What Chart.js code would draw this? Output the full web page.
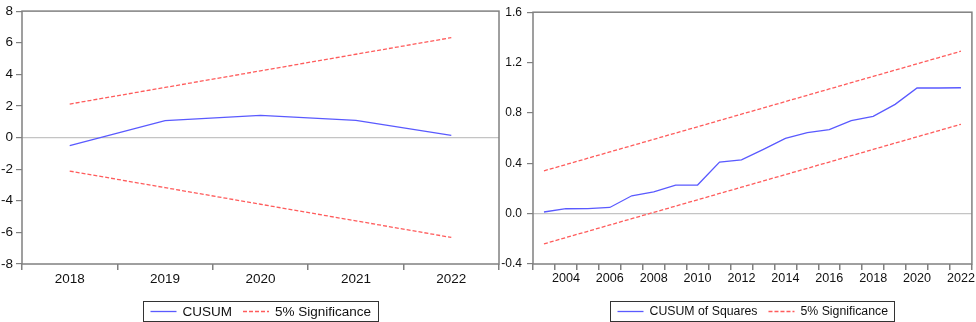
<!DOCTYPE html>
<html>
<head>
<meta charset="utf-8">
<script src="https://cdn.jsdelivr.net/npm/chart.js@4/dist/chart.umd.min.js"></script>
<style>
html,body{margin:0;padding:0;background:#fff;}
#wrap{position:relative;width:976px;height:322px;overflow:hidden;}
#c1{position:absolute;left:0;top:0;}
#c2{position:absolute;left:500px;top:0;}
</style>
</head>
<body>
<div id="wrap">
<canvas id="c1" width="500" height="322"></canvas>
<canvas id="c2" width="476" height="322"></canvas>
</div>
<script>
// ---- Left panel: CUSUM ----
const cusumYears = ['2018','2019','2020','2021','2022'];
const cusumValues = [-0.51, 1.07, 1.40, 1.09, 0.14];
const cusumUpper = [2.12, 3.17, 4.22, 5.27, 6.32];
const cusumLower = [-2.12, -3.17, -4.22, -5.27, -6.32];
const cusumYTicks = [-8, -6, -4, -2, 0, 2, 4, 6, 8];

// ---- Right panel: CUSUM of Squares ----
const sqYears = ['2003','2004','2005','2006','2007','2008','2009','2010','2011','2012',
                 '2013','2014','2015','2016','2017','2018','2019','2020','2021','2022'];
const sqValues = [0.013, 0.039, 0.040, 0.049, 0.142, 0.173, 0.227, 0.227, 0.410, 0.427,
                  0.510, 0.597, 0.643, 0.667, 0.739, 0.773, 0.868, 0.998, 0.998, 1.000];
const sqUpper = [0.34, 0.39, 0.44, 0.49, 0.54, 0.59, 0.64, 0.69, 0.74, 0.79,
                 0.84, 0.89, 0.94, 0.99, 1.04, 1.09, 1.14, 1.19, 1.24, 1.29];
const sqLower = [-0.24, -0.19, -0.14, -0.09, -0.04, 0.01, 0.06, 0.11, 0.16, 0.21,
                 0.26, 0.31, 0.36, 0.41, 0.46, 0.51, 0.56, 0.61, 0.66, 0.71];
const sqYTicks = [-0.4, 0.0, 0.4, 0.8, 1.2, 1.6];

const BLUE = '#5a5aff';
const RED = '#ff5c5c';
const AXIS = '#808080';
const FAMILY = '"Liberation Sans", Arial, sans-serif';

const framePlugin = {
  id: 'frame',
  beforeDatasetsDraw(chart) {
    const a = chart.chartArea, ctx = chart.ctx;
    ctx.save();
    ctx.strokeStyle = AXIS;
    ctx.lineWidth = 1.5;
    ctx.strokeRect(a.left, a.top, a.right - a.left, a.bottom - a.top);
    ctx.restore();
  }
};

const boxLegend = {
  id: 'boxLegend',
  afterDraw(chart) {
    const ctx = chart.ctx, a = chart.chartArea;
    const size = chart.options.plugins.boxLegend.size;
    const items = chart.data.datasets.filter(d => d.label);
    ctx.save();
    ctx.font = size + 'px ' + FAMILY;
    const pad = 7, sample = 26, gap = 6, itemGap = 11;
    let total = pad * 2;
    const widths = items.map(d => ctx.measureText(d.label).width);
    items.forEach((d, i) => { total += sample + gap + widths[i] + (i ? itemGap : 0); });
    const cx = (a.left + a.right) / 2;
    const top = 301, h = 20;
    let x = Math.round(cx - total / 2) + 0.5;
    ctx.strokeStyle = '#333';
    ctx.lineWidth = 1;
    ctx.strokeRect(x, top + 0.5, Math.round(total), h);
    let cur = x + pad;
    const mid = top + h / 2 + 0.5;
    items.forEach((d, i) => {
      if (i) cur += itemGap;
      ctx.beginPath();
      ctx.strokeStyle = d.borderColor;
      ctx.lineWidth = 1.3;
      ctx.setLineDash(d.borderDash || []);
      ctx.moveTo(cur, mid);
      ctx.lineTo(cur + sample, mid);
      ctx.stroke();
      ctx.setLineDash([]);
      cur += sample + gap;
      ctx.fillStyle = '#111';
      ctx.textBaseline = 'middle';
      ctx.textAlign = 'left';
      ctx.fillText(d.label, cur, mid + 0.5);
      cur += widths[i];
    });
    ctx.restore();
  }
};

function makeChart(id, labels, main, mainLabel, up, lo, yTicks, yMin, yMax, yWidth, padRight, labelFilter, decimals, xSize, ySize, legSize, yPad) {
  return new Chart(document.getElementById(id), {
    type: 'line',
    data: {
      labels: labels,
      datasets: [
        {label: mainLabel, data: main, borderColor: BLUE, borderWidth: 1.3, pointRadius: 0, tension: 0, fill: false},
        {label: '5% Significance', data: up, borderColor: RED, borderWidth: 1.3, borderDash: [4, 2], pointRadius: 0, tension: 0, fill: false},
        {label: '', data: lo, borderColor: RED, borderWidth: 1.3, borderDash: [4, 2], pointRadius: 0, tension: 0, fill: false}
      ]
    },
    options: {
      responsive: false,
      animation: false,
      layout: {padding: {left: 0, right: padRight, top: 5, bottom: 0}},
      plugins: {legend: {display: false}, tooltip: {enabled: false}, boxLegend: {size: legSize}},
      scales: {
        x: {
          type: 'category',
          offset: true,
          afterFit: s => { s.height = 58; },
          grid: {offset: true, drawOnChartArea: false, drawTicks: true, tickLength: 6, tickColor: AXIS, lineWidth: 1.5},
          border: {display: false},
          ticks: {
            autoSkip: false, maxRotation: 0, padding: 1, color: '#111', font: {family: FAMILY, size: xSize},
            callback: function(v, i) { return labelFilter(i) ? this.getLabelForValue(v) : ''; }
          }
        },
        y: {
          min: yMin, max: yMax,
          afterFit: s => { s.width = yWidth; },
          afterBuildTicks: s => { s.ticks = yTicks.map(v => ({value: v})); },
          grid: {
            drawTicks: true, tickLength: 6, tickColor: AXIS,
            color: c => (c.tick && Math.abs(c.tick.value) < 1e-9) ? '#c4c4c4' : 'rgba(0,0,0,0)',
            lineWidth: 1.2
          },
          border: {display: false},
          ticks: {padding: yPad, color: '#111', font: {family: FAMILY, size: ySize},
                  callback: v => decimals ? Number(v).toFixed(decimals) : String(v)}
        }
      }
    },
    plugins: [framePlugin, boxLegend]
  });
}

makeChart('c1', cusumYears, cusumValues, 'CUSUM', cusumUpper, cusumLower, cusumYTicks,
          -8, 8, 22, 1, i => true, 0, 13.5, 13.5, 13.5, 3);
makeChart('c2', sqYears, sqValues, 'CUSUM of Squares', sqUpper, sqLower, sqYTicks,
          -0.4, 1.6, 33, 2, i => i % 2 === 1, 1, 12.6, 12, 12.3, 5);
</script>
</body>
</html>
